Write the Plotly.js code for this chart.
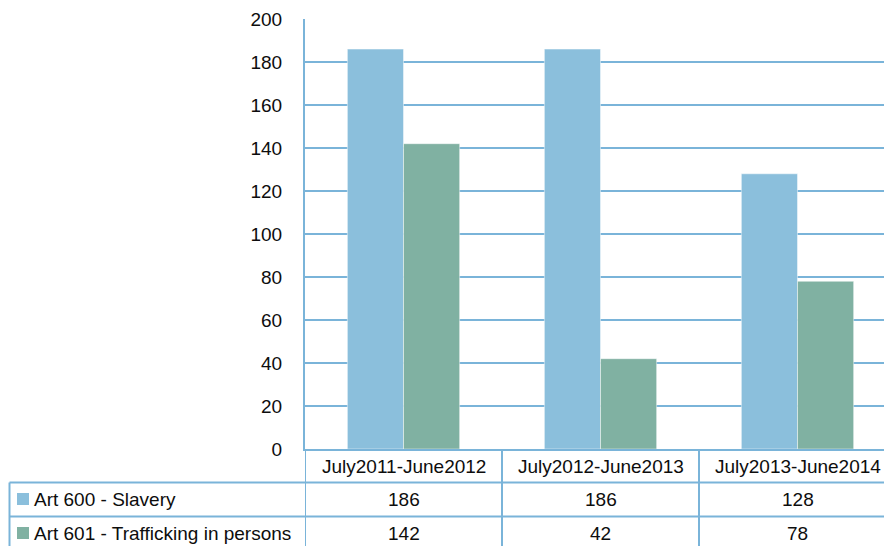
<!DOCTYPE html>
<html>
<head>
<meta charset="utf-8">
<script src="https://cdn.plot.ly/plotly-3.0.1.min.js"></script>
<style>html,body{margin:0;padding:0;background:#fff;}</style>
</head>
<body>
<div id="chart" style="width:884px;height:546px;"></div>
<script>
const categories = ["July2011-June2012", "July2012-June2013", "July2013-June2014"];
const seriesNames = ["Art 600 - Slavery", "Art 601 - Trafficking in persons"];
const slavery = [186, 186, 128];
const trafficking = [142, 42, 78];
const yTicks = [0, 20, 40, 60, 80, 100, 120, 140, 160, 180, 200];

const colors = ["#8BBFDC", "#80B1A2"];
const lineColor = "#7AB4D9";
const fontFam = "Liberation Sans, Arial, sans-serif";
const textColor = "#0d0d0d";

const W = 884, H = 546;
const mL = 305, mR = 0, mT = 19, mB = 97;
const plotW = W - mL - mR, plotH = H - mT - mB;
const catW = 197;
const xMin = -0.5, xMax = -0.5 + plotW / catW;

function px2x(px) { return (px - mL) / plotW; }
function py2y(py) { return (H - mB - py) / plotH; }

const seriesValues = [slavery, trafficking];

const traces = seriesValues.map((vals, i) => ({
  type: "bar",
  name: seriesNames[i],
  x: categories.map((c, k) => k),
  y: vals,
  marker: { color: colors[i], line: { color: "rgba(255,255,255,0.45)", width: 1 } },
  hoverinfo: "skip"
}));

const shapes = [];
const rowTop = 482.5, rowMid = 516.5, bottom = H + 2, tableLeft = 9.5;
[rowTop, rowMid].forEach(py => shapes.push({
  type: "line", xref: "paper", yref: "paper",
  x0: px2x(tableLeft), x1: 1.05, y0: py2y(py), y1: py2y(py),
  line: { color: lineColor, width: 2 }
}));
shapes.push({ type: "line", xref: "paper", yref: "paper",
  x0: px2x(tableLeft), x1: px2x(tableLeft), y0: py2y(rowTop), y1: py2y(bottom),
  line: { color: lineColor, width: 2 } });
categories.forEach((c, k) => shapes.push({
  type: "line", xref: "x", yref: "paper",
  x0: k - 0.5, x1: k - 0.5, y0: 0, y1: py2y(bottom),
  line: { color: lineColor, width: 2 }
}));
const keyCenters = [499, 533];
seriesNames.forEach((n, i) => shapes.push({
  type: "rect", xref: "paper", yref: "paper",
  x0: px2x(17), x1: px2x(29), y0: py2y(keyCenters[i] - 6), y1: py2y(keyCenters[i] + 6),
  fillcolor: colors[i], line: { width: 0 }
}));

const annotations = [];
const font = { family: fontFam, size: 19, color: textColor };
categories.forEach((c, k) => annotations.push({
  xref: "x", yref: "paper", x: k, y: py2y(466), text: c,
  showarrow: false, xanchor: "center", yanchor: "middle", font
}));
seriesNames.forEach((n, i) => {
  annotations.push({
    xref: "paper", yref: "paper", x: px2x(32), y: py2y(keyCenters[i]), text: n,
    showarrow: false, xanchor: "left", yanchor: "middle", font
  });
  seriesValues[i].forEach((v, k) => annotations.push({
    xref: "x", yref: "paper", x: k, y: py2y(keyCenters[i]), text: String(v),
    showarrow: false, xanchor: "center", yanchor: "middle", font
  }));
});

const layout = {
  width: W, height: H,
  margin: { l: mL, r: mR, t: mT, b: mB, pad: 0 },
  paper_bgcolor: "#fff", plot_bgcolor: "#fff",
  barmode: "group", bargap: 0.43, bargroupgap: 0,
  showlegend: false,
  font: { family: fontFam, size: 19, color: textColor },
  xaxis: {
    range: [xMin, xMax], showticklabels: false, ticks: "",
    showgrid: false, zeroline: false,
    showline: true, linecolor: lineColor, linewidth: 2, mirror: false
  },
  yaxis: {
    range: [0, 200], tickvals: yTicks, ticktext: yTicks.map(String),
    ticks: "", ticklabelstandoff: 17,
    showgrid: true, gridcolor: lineColor, gridwidth: 2,
    zeroline: false, showline: true, linecolor: lineColor, linewidth: 2,
    tickfont: { family: fontFam, size: 19, color: textColor }
  },
  shapes, annotations
};

Plotly.newPlot("chart", traces, layout, { displayModeBar: false, staticPlot: true });
</script>
</body>
</html>
